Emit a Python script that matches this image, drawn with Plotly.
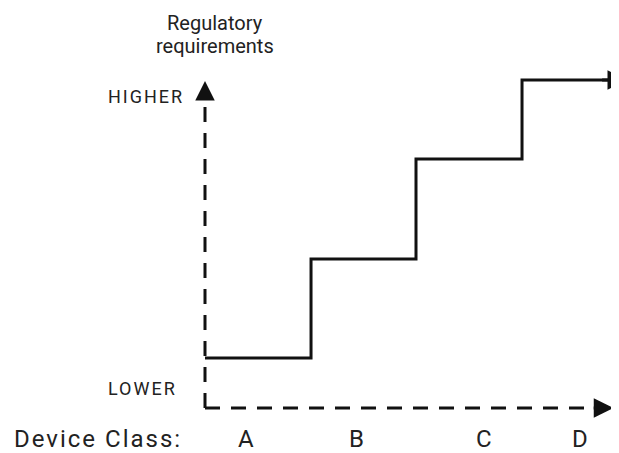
import plotly.graph_objects as go

# ---- Data ----
classes = ["A", "B", "C", "D"]
class_label_x = [0.39, 1.44, 2.645, 3.555]
step_edges = [0, 1.005, 2.0, 3.005, 3.88]
step_levels = [0.5, 1.49, 2.49, 3.28]
step_arrow_tip = 4.0
y_axis_tip = 3.27
x_axis_tip = 3.87
level_labels = ["LOWER", "HIGHER"]
level_label_y = [0.195, 3.113]
title_lines = ["Regulatory", "requirements"]
title_line_y = [3.85, 3.62]

FONT = "Roboto"
INK = "#111111"
TXT = "#222222"

# build step path
sx, sy = [], []
for i, lv in enumerate(step_levels):
    sx += [step_edges[i], step_edges[i + 1]]
    sy += [lv, lv]

fig = go.Figure()
dash = "15px,11px"
# y axis dashed (drawn bottom -> top)
fig.add_trace(go.Scatter(x=[0, 0], y=[0, y_axis_tip - 0.13], mode="lines",
                         line=dict(color=INK, width=3, dash=dash), hoverinfo="skip", cliponaxis=False))
# x axis dashed (left -> right)
fig.add_trace(go.Scatter(x=[0, x_axis_tip - 0.14], y=[0, 0], mode="lines",
                         line=dict(color=INK, width=3, dash=dash), hoverinfo="skip", cliponaxis=False))
# step line
fig.add_trace(go.Scatter(x=sx, y=sy, mode="lines",
                         line=dict(color=INK, width=3), hoverinfo="skip", cliponaxis=False))

annotations = []
# arrowheads
def head(x_tip, y_tip, x_base, y_base):
    return dict(x=x_tip, y=y_tip, ax=x_base, ay=y_base, xref="x", yref="y",
                axref="x", ayref="y", text="", showarrow=True, arrowhead=2,
                arrowsize=1.3, arrowwidth=3, arrowcolor=INK, standoff=0)

annotations.append(head(0, y_axis_tip, 0, y_axis_tip - 0.2))
annotations.append(head(x_axis_tip, 0, x_axis_tip - 0.2, 0))
annotations.append(head(step_arrow_tip, step_levels[-1], step_arrow_tip - 0.25, step_levels[-1]))

for c, x in zip(classes, class_label_x):
    annotations.append(dict(x=x, y=-0.31, text=c, showarrow=False,
                            font=dict(family=FONT, size=24, color=TXT), xanchor="center", yanchor="middle"))
annotations.append(dict(x=-1.83, y=-0.31,
                        text='<span style="letter-spacing:2px">Device Class:</span>', showarrow=False,
                        font=dict(family=FONT, size=24, color=TXT), xanchor="left", yanchor="middle"))
for t, y in zip(level_labels, level_label_y):
    annotations.append(dict(x=-0.94, y=y, text='<span style="letter-spacing:2px">%s</span>' % t,
                            showarrow=False, font=dict(family=FONT, size=18, color=TXT),
                            xanchor="left", yanchor="middle"))
for t, y in zip(title_lines, title_line_y):
    annotations.append(dict(x=0.095, y=y, text=t, showarrow=False,
                            font=dict(family=FONT, size=20, color=TXT), xanchor="center", yanchor="middle"))

fig.update_layout(
    width=611, height=445, autosize=False,
    margin=dict(l=0, r=0, t=0, b=0),
    paper_bgcolor="white", plot_bgcolor="white",
    showlegend=False,
    xaxis=dict(range=[-1.8673, 3.9242], visible=False, fixedrange=True),
    yaxis=dict(range=[-0.45, 4.0], visible=False, fixedrange=True),
    annotations=annotations,
)
fig.write_html("out.html")
